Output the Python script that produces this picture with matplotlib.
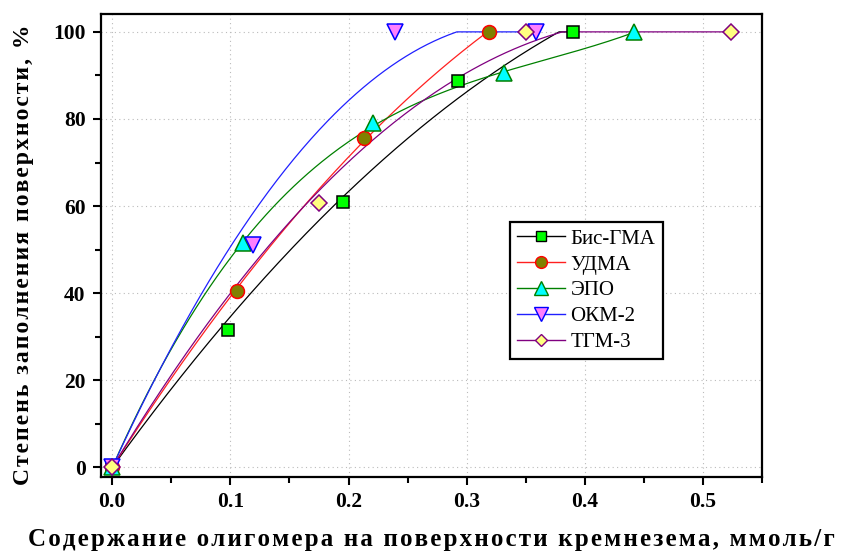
"""Surface coverage vs. oligomer content on silica, five oligomers."""

import numpy as np
import matplotlib
matplotlib.use("Agg")
import matplotlib.pyplot as plt
from matplotlib.ticker import MultipleLocator

# ---------------------------------------------------------------------------
# Data
# ---------------------------------------------------------------------------
names = ["Бис-ГМА", "УДМА", "ЭПО", "ОКМ-2", "ТГМ-3"]

bis_x = [0.0, 0.098, 0.195, 0.293, 0.390]
bis_y = [0.0, 31.5, 61.0, 88.7, 100.0]

udma_x = [0.0, 0.106, 0.213, 0.319]
udma_y = [0.0, 40.5, 75.7, 100.0]

epo_x = [0.0, 0.111, 0.221, 0.332, 0.442]
epo_y = [0.0, 51.5, 79.0, 90.5, 100.0]

okm_x = [0.0, 0.119, 0.239, 0.359]
okm_y = [0.0, 51.0, 100.0, 100.0]

tgm_x = [0.0, 0.175, 0.350, 0.524]
tgm_y = [0.0, 60.7, 100.0, 100.0]

x_ticks = [0.0, 0.1, 0.2, 0.3, 0.4, 0.5]
y_ticks = [0, 20, 40, 60, 80, 100]

# line colour, marker, face colour, edge colour, fit degree
STYLES = [
    ("black",   "s", "#00ff00", "black",   2),
    ("#ff2020", "o", "#808000", "#ff0000", 2),
    ("#008000", "^", "#00ffff", "#008000", 3),
    ("#2020ff", "v", "#ff80ff", "#0000ff", 2),
    ("#800080", "D", "#ffff80", "#800080", 2),
]
MSIZE = {"s": 9, "o": 10, "^": 11, "v": 11, "D": 8}

SERIES = [(bis_x, bis_y), (udma_x, udma_y), (epo_x, epo_y),
          (okm_x, okm_y), (tgm_x, tgm_y)]


def spaced(text):
    """Imitate the wide letter spacing of the original labels."""
    return "\u200a".join(text)


def origin_fit(xs, ys, deg):
    """Least-squares polynomial through the origin, as the smooth curve."""
    basis = np.column_stack([xs ** k for k in range(1, deg + 1)])
    coef, *_ = np.linalg.lstsq(basis, ys, rcond=None)
    xf = np.linspace(0, xs.max(), 300)
    yf = sum(c * xf ** (k + 1) for k, c in enumerate(coef))
    return xf, np.minimum(yf, 100)


plt.rcParams["font.family"] = ["Liberation Serif", "DejaVu Serif"]

fig = plt.figure(figsize=(8.51, 5.54), dpi=100)
ax = fig.add_axes([0.1187, 0.139, 0.7767, 0.8357])

for (xs, ys), name, (lc, mk, fc, ec, deg) in zip(SERIES, names, STYLES):
    xs = np.asarray(xs)
    ys = np.asarray(ys)
    xf, yf = origin_fit(xs, ys, deg)
    ax.plot(xf, yf, color=lc, lw=0.9, zorder=2)
    ax.plot(xs, ys, linestyle="none", marker=mk, markersize=MSIZE[mk],
            markerfacecolor=fc, markeredgecolor=ec, markeredgewidth=1.1,
            zorder=3)
    # legend proxy
    ax.plot([], [], color=lc, lw=1.0, marker=mk, markersize=MSIZE[mk] - 1.5,
            markerfacecolor=fc, markeredgecolor=ec, label=name)

ax.set_xlim(-0.0095, 0.55)
ax.set_ylim(-2.2, 104.1)
ax.set_xticks(x_ticks)
ax.set_yticks(y_ticks)
ax.set_xticklabels([f"{v:.1f}" for v in x_ticks])
ax.xaxis.set_minor_locator(MultipleLocator(0.05))
ax.yaxis.set_minor_locator(MultipleLocator(10))

ax.tick_params(which="major", direction="out", length=6, width=1.5,
               labelsize=15.5, pad=5)
ax.tick_params(which="minor", direction="out", length=4, width=1.5)
for lbl in ax.get_xticklabels() + ax.get_yticklabels():
    lbl.set_fontweight("bold")

for sp in ax.spines.values():
    sp.set_linewidth(1.6)

ax.grid(which="major", linestyle=(0, (1, 3)), color="#bbbbbb", lw=0.8)
ax.set_axisbelow(True)

ax.set_xlabel(spaced("Содержание олигомера на поверхности кремнезема, ммоль/г"),
              fontsize=18, fontweight="bold", labelpad=11)
ax.set_ylabel(spaced("Степень заполнения поверхности, %"),
              fontsize=17, fontweight="bold")
ax.yaxis.set_label_coords(-0.102, 0.48)

leg = ax.legend(loc="upper left", bbox_to_anchor=(0.619, 0.551),
                borderaxespad=0, fontsize=15, frameon=True, fancybox=False,
                framealpha=1, handlelength=2.3, borderpad=0.35,
                labelspacing=0.3, handletextpad=0.25)
leg.get_frame().set_edgecolor("black")
leg.get_frame().set_linewidth(1.6)

fig.savefig("out.png", dpi=100)
